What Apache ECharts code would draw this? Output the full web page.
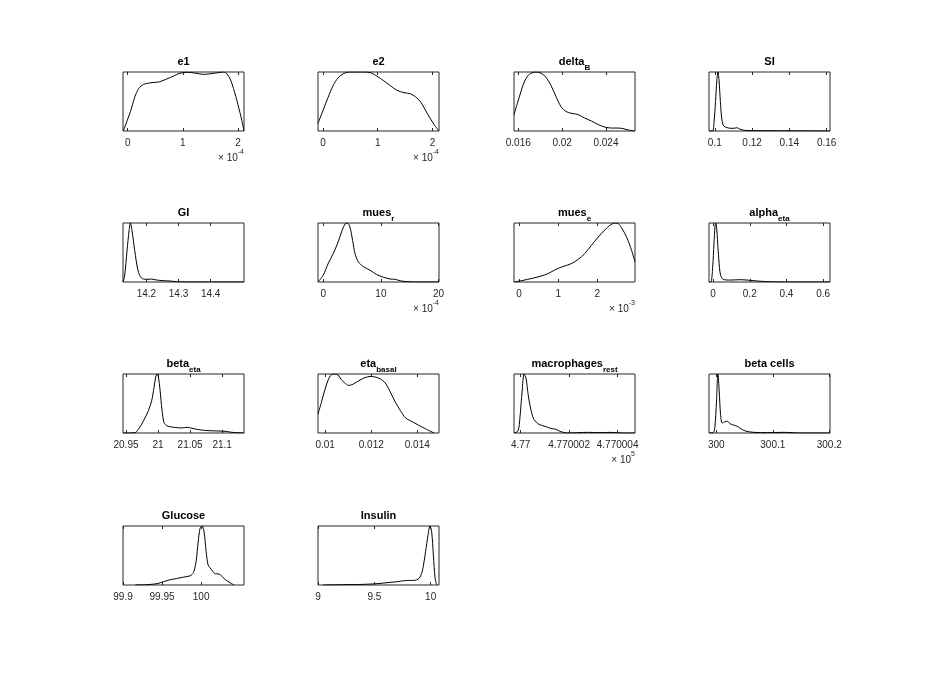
<!DOCTYPE html>
<html>
<head>
<meta charset="utf-8">
<script src="https://cdn.jsdelivr.net/npm/echarts@6/dist/echarts.min.js"></script>
<style>
  html, body { margin: 0; padding: 0; background: #fff; }
  #chart { width: 947px; height: 691px; }
</style>
</head>
<body>
<div id="chart"></div>
<script>
// panel titles: [main text, subscript]
const panelTitles = [
  ['e1', ''], ['e2', ''], ['delta', 'B'], ['SI', ''],
  ['GI', ''], ['mues', 'r'], ['mues', 'e'], ['alpha', 'eta'],
  ['beta', 'eta'], ['eta', 'basal'], ['macrophages', 'rest'], ['beta cells', ''],
  ['Glucose', ''], ['Insulin', '']
];

// x exponent shown under the axis (x10^n), '' = none
const xExponents = ['-4', '-4', '', '', '', '-4', '-3', '', '', '', '5', '', '', ''];

// x limits of each panel
const xRanges = [
  [-0.085, 2.11], [-0.092, 2.12], [0.01561, 0.02665], [0.0969, 0.1618],
  [14.127, 14.504], [-0.91, 20.07], [-0.129, 2.964], [-0.022, 0.637],
  [20.9453, 21.134], [0.009687, 0.014944], [4.769999725, 4.770004718], [299.987, 300.2014],
  [99.9, 100.0549], [9, 10.074]
];

// tick labels
const e1Ticks = [0, 1, 2];
const e2Ticks = [0, 1, 2];
const deltaBTicks = [0.016, 0.02, 0.024];
const siTicks = [0.1, 0.12, 0.14, 0.16];
const giTicks = [14.2, 14.3, 14.4];
const muesRTicks = [0, 10, 20];
const muesETicks = [0, 1, 2];
const alphaEtaTicks = [0, 0.2, 0.4, 0.6];
const betaEtaTicks = [20.95, 21, 21.05, 21.1];
const etaBasalTicks = [0.01, 0.012, 0.014];
const macroTicks = [4.77, 4.770002, 4.770004];
const betaCellsTicks = [300, 300.1, 300.2];
const glucoseTicks = [99.9, 99.95, 100];
const insulinTicks = [9, 9.5, 10];

// density curves [x, relative density]
const e1Curve = [[-0.08,0],[0.05,0.33],[0.13,0.58],[0.2,0.72],[0.29,0.79],[0.44,0.82],[0.56,0.83],[0.68,0.87],[0.83,0.93],[0.95,0.98],[1.08,0.995],[1.23,0.98],[1.38,0.96],[1.5,0.97],[1.65,0.99],[1.74,1.0],[1.8,0.97],[1.86,0.88],[1.92,0.72],[2.0,0.45],[2.07,0.18],[2.11,0]];
const e2Curve = [[-0.092,0.13],[0,0.35],[0.092,0.57],[0.185,0.77],[0.277,0.905],[0.37,0.97],[0.49,1.0],[0.615,1.0],[0.74,1.0],[0.86,0.99],[0.985,0.93],[1.11,0.85],[1.23,0.77],[1.35,0.69],[1.48,0.65],[1.6,0.63],[1.69,0.58],[1.785,0.49],[1.91,0.29],[2.03,0.11],[2.12,0]];
const deltaBCurve = [[0.01561,0.28],[0.01592,0.47],[0.01623,0.66],[0.01654,0.83],[0.017,0.96],[0.01761,1.0],[0.01807,0.98],[0.01853,0.91],[0.01899,0.77],[0.01945,0.58],[0.01991,0.41],[0.02037,0.33],[0.02083,0.30],[0.02144,0.28],[0.02205,0.22],[0.02267,0.17],[0.02328,0.11],[0.02389,0.066],[0.02451,0.05],[0.02512,0.05],[0.02558,0.04],[0.02604,0.017],[0.02665,0]];
const siCurve = [[0.0969,0],[0.0988,0],[0.0996,0.15],[0.1004,0.5],[0.1011,0.85],[0.1017,1.0],[0.1023,0.85],[0.103,0.5],[0.1037,0.22],[0.1045,0.1],[0.1055,0.07],[0.1075,0.05],[0.1098,0.045],[0.112,0.055],[0.1136,0.03],[0.1164,0.01],[0.1245,0.005],[0.1409,0.003],[0.1618,0]];
const giCurve = [[14.127,0],[14.132,0.1],[14.1395,0.53],[14.146,0.875],[14.15,1.0],[14.155,0.875],[14.1636,0.53],[14.174,0.19],[14.1845,0.068],[14.2,0.045],[14.2157,0.05],[14.231,0.034],[14.252,0.023],[14.273,0.017],[14.294,0.006],[14.325,0],[14.504,0]];
const muesRCurve = [[-0.91,0],[-0.03,0.11],[0.84,0.31],[1.72,0.48],[2.59,0.68],[3.18,0.85],[3.76,0.98],[4.17,1.0],[4.63,0.93],[5.1,0.7],[5.51,0.48],[6.09,0.34],[6.96,0.26],[8.13,0.2],[9.29,0.125],[10.46,0.08],[11.62,0.05],[12.5,0.045],[13.37,0.02],[14.54,0.006],[16.29,0],[20.07,0]];
const muesECurve = [[-0.129,0],[0.043,0.02],[0.215,0.044],[0.387,0.07],[0.559,0.1],[0.731,0.14],[0.903,0.2],[1.032,0.24],[1.16,0.27],[1.332,0.31],[1.504,0.38],[1.676,0.48],[1.848,0.62],[2.02,0.76],[2.19,0.88],[2.32,0.96],[2.45,1.0],[2.535,0.99],[2.62,0.92],[2.75,0.76],[2.88,0.53],[2.964,0.34]];
const alphaEtaCurve = [[-0.022,0],[-0.012,0],[-0.002,0.25],[0.005,0.65],[0.011,0.95],[0.0151,1.0],[0.02,0.9],[0.028,0.53],[0.035,0.25],[0.041,0.117],[0.0557,0.044],[0.0927,0.033],[0.148,0.039],[0.185,0.033],[0.24,0.017],[0.296,0.006],[0.388,0],[0.637,0]];
const betaEtaCurve = [[20.9453,0],[20.9641,0.006],[20.9693,0.06],[20.9771,0.2],[20.9849,0.37],[20.9901,0.54],[20.9937,0.76],[20.9963,0.93],[20.9984,0.98],[21.0005,0.93],[21.0031,0.71],[21.0062,0.37],[21.0094,0.17],[21.0135,0.12],[21.0213,0.1],[21.0292,0.09],[21.037,0.084],[21.0458,0.095],[21.0526,0.079],[21.063,0.056],[21.076,0.04],[21.0917,0.034],[21.1047,0.028],[21.1151,0.011],[21.123,0.006],[21.134,0]];
const etaBasalCurve = [[0.009688,0.33],[0.009835,0.53],[0.009981,0.73],[0.010127,0.9],[0.010273,0.99],[0.010419,1.0],[0.010565,0.98],[0.010711,0.9],[0.010857,0.85],[0.011003,0.81],[0.011149,0.82],[0.011295,0.85],[0.011514,0.9],[0.011733,0.94],[0.011952,0.96],[0.012171,0.95],[0.01239,0.92],[0.012609,0.85],[0.012828,0.7],[0.013048,0.53],[0.013267,0.39],[0.013486,0.27],[0.013705,0.22],[0.013997,0.16],[0.01436,0.086],[0.01473,0.017]];
const macroCurve = [[4.76999973,0],[4.76999989,0.034],[4.76999997,0.26],[4.77000006,0.71],[4.77000014,1.0],[4.77000022,0.93],[4.77000031,0.65],[4.77000042,0.4],[4.77000055,0.23],[4.77000076,0.146],[4.77000097,0.118],[4.77000124,0.079],[4.77000145,0.062],[4.77000166,0.022],[4.77000193,0],[4.77000276,0.011],[4.77000331,0.006],[4.77000373,0.011],[4.77000414,0],[4.77000472,0]];
const betaCellsCurve = [[299.987,0],[299.9943,0.006],[299.9973,0.09],[300.0003,0.54],[300.0027,1.0],[300.0051,0.71],[300.0075,0.31],[300.0105,0.17],[300.0153,0.19],[300.0195,0.2],[300.0243,0.157],[300.0303,0.135],[300.0363,0.118],[300.0423,0.079],[300.0513,0.034],[300.0663,0.011],[300.0903,0.006],[300.1204,0.011],[300.1504,0],[300.2014,0]];
const glucoseCurve = [[99.9157,0],[99.9306,0.006],[99.9434,0.022],[99.9519,0.056],[99.9604,0.089],[99.9689,0.11],[99.9774,0.133],[99.986,0.156],[99.9902,0.21],[99.9936,0.4],[99.9962,0.73],[99.9987,0.96],[100.0013,1.0],[100.0038,0.9],[100.0064,0.57],[100.0089,0.34],[100.0115,0.29],[100.0149,0.23],[100.0183,0.19],[100.0217,0.19],[100.0251,0.167],[100.0307,0.094],[100.037,0.039],[100.0421,0]];
const insulinCurve = [[9.045,0],[9.224,0.006],[9.403,0.011],[9.523,0.022],[9.612,0.039],[9.702,0.056],[9.761,0.072],[9.806,0.078],[9.851,0.078],[9.896,0.11],[9.925,0.23],[9.955,0.57],[9.976,0.84],[9.994,1.0],[10.009,0.9],[10.024,0.51],[10.039,0.12],[10.054,0]];

const allTicks = [e1Ticks, e2Ticks, deltaBTicks, siTicks, giTicks, muesRTicks, muesETicks, alphaEtaTicks,
  betaEtaTicks, etaBasalTicks, macroTicks, betaCellsTicks, glucoseTicks, insulinTicks];
const allCurves = [e1Curve, e2Curve, deltaBCurve, siCurve, giCurve, muesRCurve, muesECurve, alphaEtaCurve,
  betaEtaCurve, etaBasalCurve, macroCurve, betaCellsCurve, glucoseCurve, insulinCurve];

let myChart = echarts.init(document.getElementById('chart'), null, { renderer: 'canvas' });

const FONT = '"Liberation Sans", Arial, Helvetica, sans-serif';
const AXC = '#262626';
const colLeft = [123, 318, 514, 709];
const rowTop = [72, 223, 374, 526];
const W = 121, H = 59;

let grids = [], xAxes = [], yAxes = [], series = [], graphics = [];
for (let i = 0; i < allCurves.length; i++) {
  let left = colLeft[i % 4], top = rowTop[Math.floor(i / 4)];
  grids.push({
    left: left, top: top, width: W, height: H,
    show: true, borderColor: AXC, borderWidth: 1, backgroundColor: 'transparent',
    outerBoundsMode: 'none'
  });
  let ticks = allTicks[i];
  let base = {
    type: 'value', gridIndex: i, min: xRanges[i][0], max: xRanges[i][1],
    axisLine: { show: false }, splitLine: { show: false },
    axisTick: { show: true, inside: true, length: 3, customValues: ticks, lineStyle: { color: AXC, width: 1 } }
  };
  xAxes.push(Object.assign({}, base, {
    position: 'bottom',
    axisLabel: {
      customValues: ticks, fontSize: 10, color: AXC, fontFamily: FONT, margin: 7.5,
      formatter: function (v) { return String(v); }
    }
  }));
  xAxes.push(Object.assign({}, base, { position: 'top', axisLabel: { show: false } }));
  yAxes.push({ type: 'value', gridIndex: i, min: 'dataMin', max: 'dataMax', show: false });
  series.push({
    type: 'line', xAxisIndex: 2 * i, yAxisIndex: i, data: allCurves[i],
    showSymbol: false, symbol: 'none', smooth: 0.3, silent: true,
    lineStyle: { color: '#000', width: 1 }
  });

  // title with optional subscript
  let t = panelTitles[i];
  graphics.push({
    type: 'text', x: left + W / 2, y: top - 15.5, silent: true,
    style: {
      text: '{m|' + t[0] + '}' + (t[1] ? '{s|' + t[1] + '}' : ''),
      align: 'center', verticalAlign: 'top',
      rich: {
        m: { fontSize: 11, fontWeight: 'bold', fontFamily: FONT, fill: '#000', lineHeight: 14, verticalAlign: 'top' },
        s: { fontSize: 8, fontWeight: 'bold', fontFamily: FONT, fill: '#000', lineHeight: 10, padding: [7, 0, 0, 0], verticalAlign: 'top' }
      }
    }
  });
  // x10^n exponent
  if (xExponents[i]) {
    graphics.push({
      type: 'text', x: left + W, y: top + H + 18, silent: true,
      style: {
        text: '{a|\u00d7 10}{b|' + xExponents[i] + '}',
        align: 'right', verticalAlign: 'top',
        rich: {
          a: { fontSize: 10, fontFamily: FONT, fill: AXC, lineHeight: 12, padding: [4, 0, 0, 0], verticalAlign: 'top' },
          b: { fontSize: 7, fontFamily: FONT, fill: AXC, lineHeight: 8, verticalAlign: 'top' }
        }
      }
    });
  }
}

let option = {
  backgroundColor: '#fff',
  animation: false,
  grid: grids,
  xAxis: xAxes,
  yAxis: yAxes,
  series: series,
  graphic: graphics
};
myChart.setOption(option);
</script>
</body>
</html>
